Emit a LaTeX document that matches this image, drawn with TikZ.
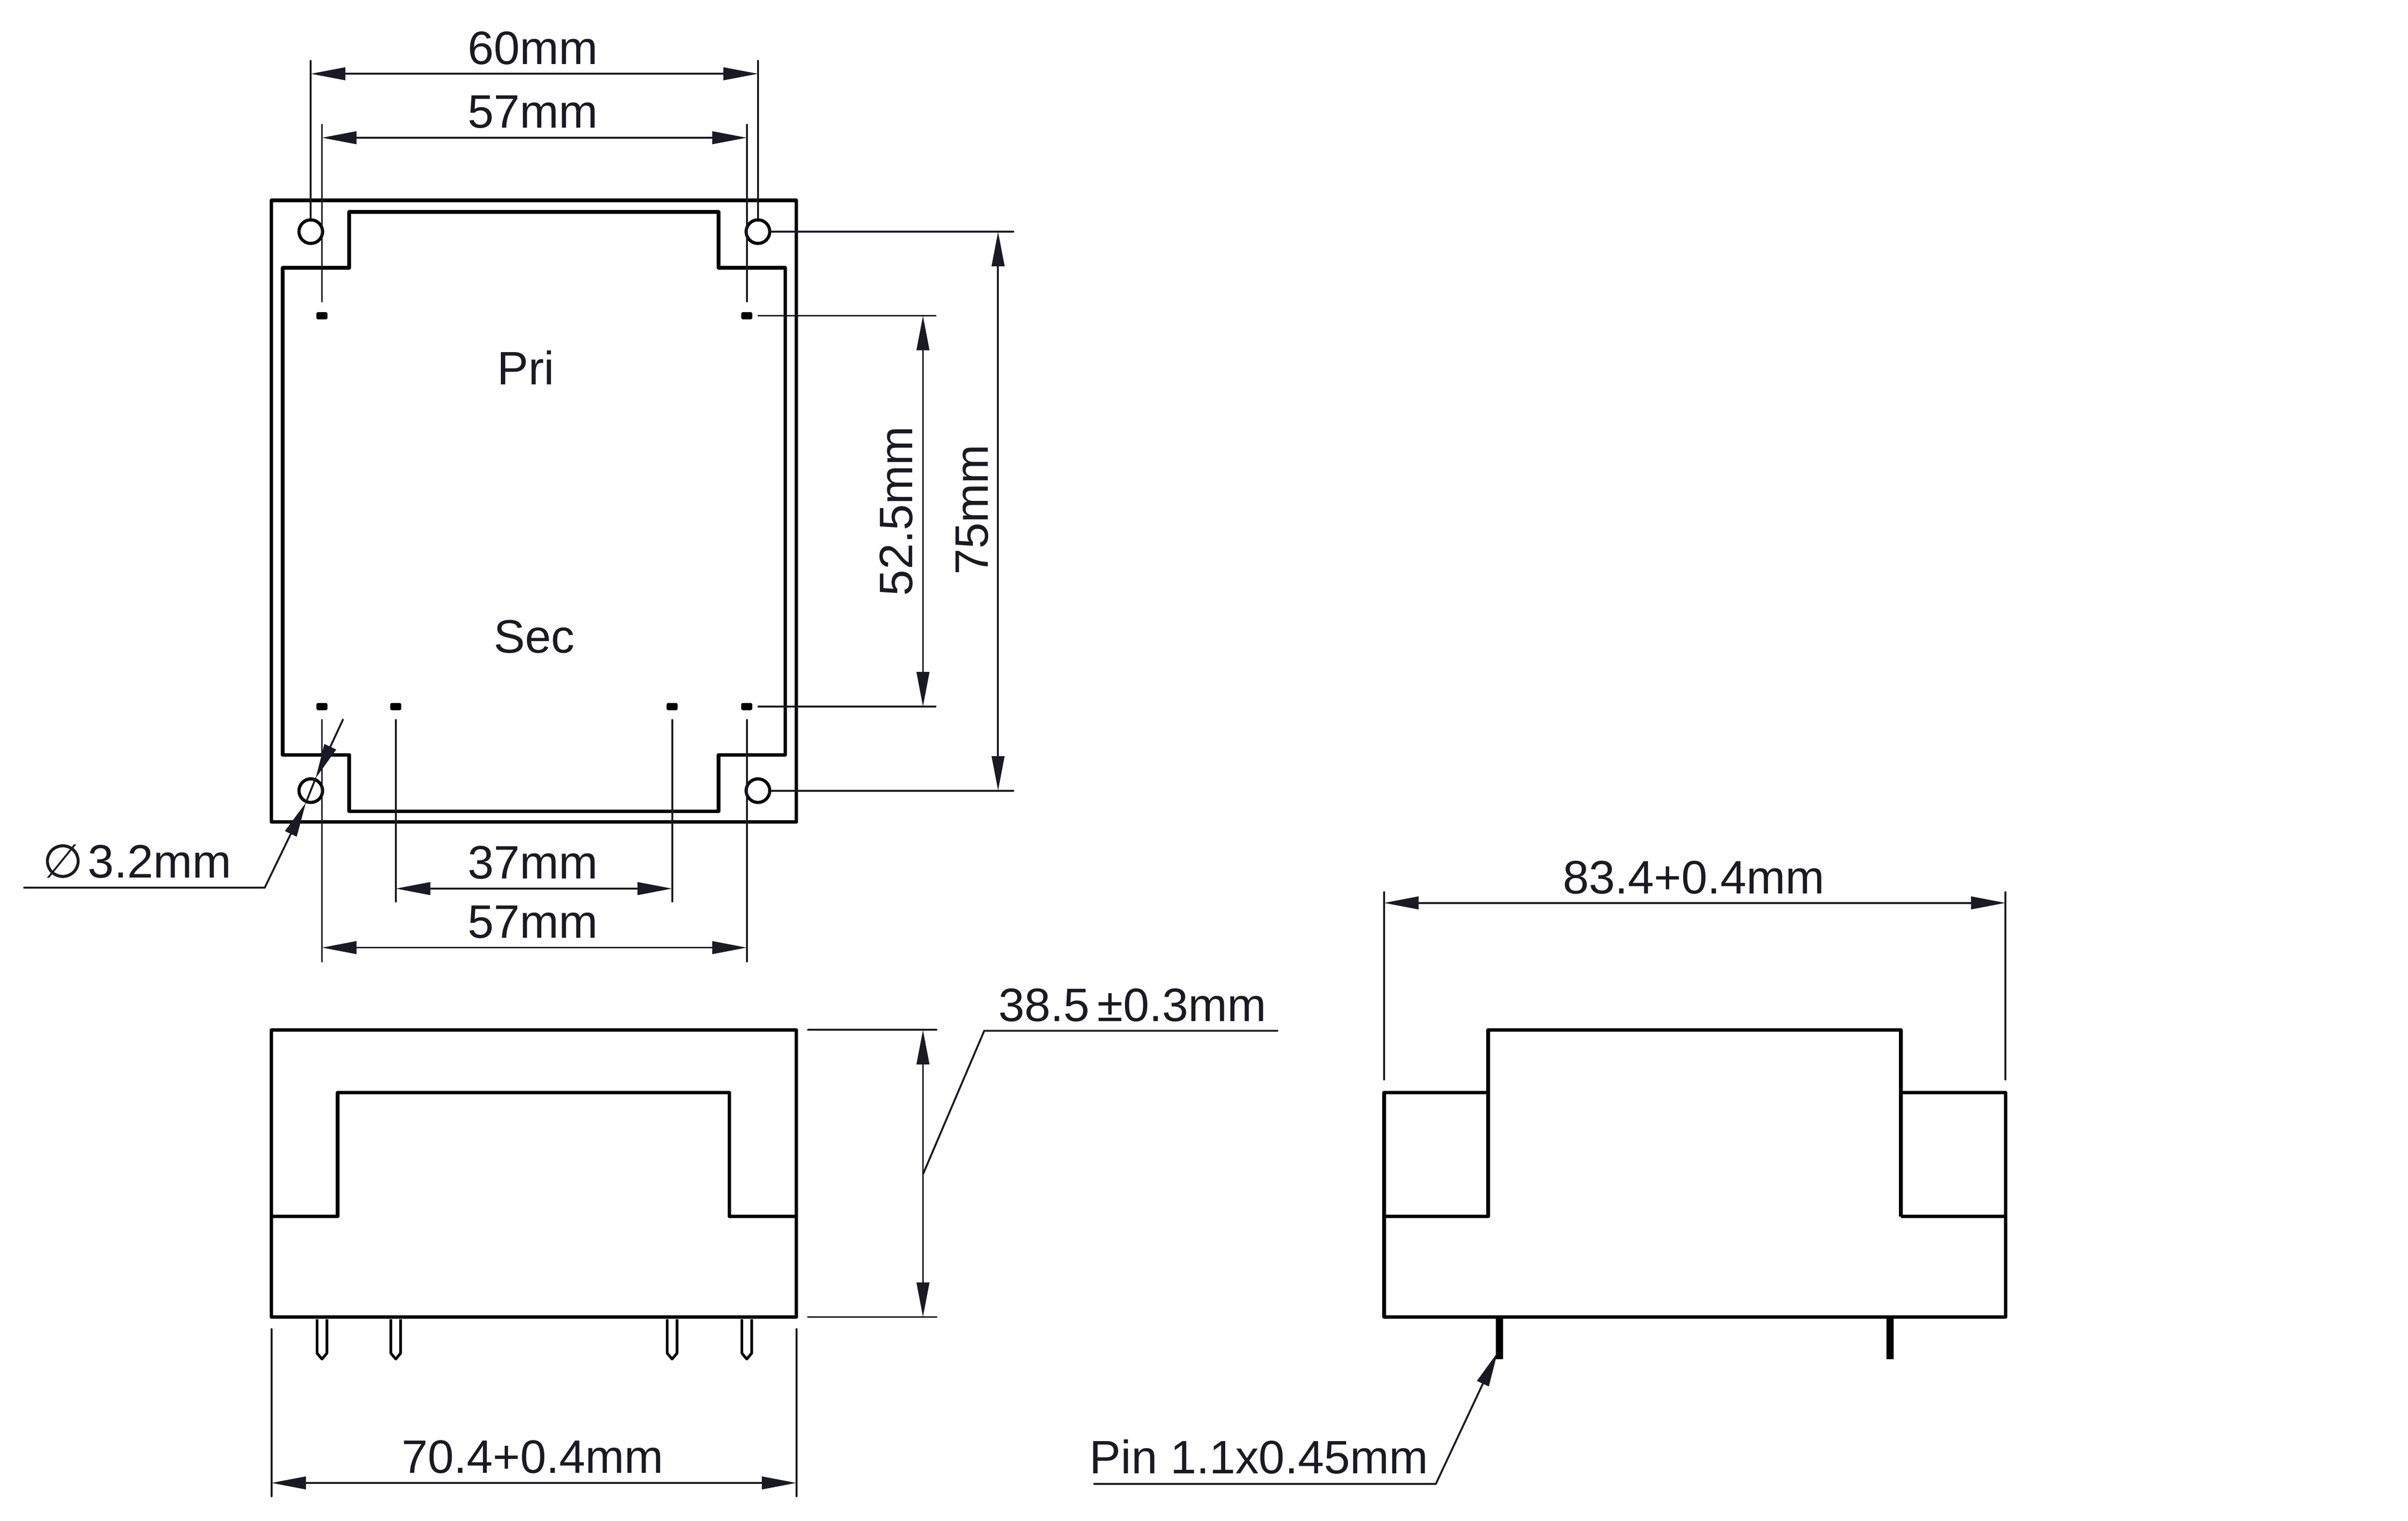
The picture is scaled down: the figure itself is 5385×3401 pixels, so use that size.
\documentclass[tikz,border=0pt]{standalone}
\usepackage{fontspec}
\setmainfont{Liberation Sans}
\newfontfamily\phifont{DejaVu Sans}
\usepackage{tikz}
\usetikzlibrary{arrows.meta}
\definecolor{dimink}{RGB}{26,26,36}
\tikzset{
    outline/.style={line width=2.3pt, line join=round, black},
    pinline/.style={line width=1.7pt, line join=round, black},
    hole/.style={circle, draw=black, line width=2pt, inner sep=0pt, minimum size=15pt},
    pad/.style={rectangle, fill=black, rounded corners=1pt, inner sep=0pt, minimum width=7pt, minimum height=4.6pt},
    dimline/.style={line width=1.2pt, dimink, line cap=round},
    dimtext/.style={text=dimink, inner sep=0pt, anchor=base, font=\fontsize{29.8}{33}\selectfont},
}
\begin{document}
\begin{tikzpicture}[x=0.01cm, y=-0.01cm, >={Triangle[length=22pt, width=8pt]}]
    \useasboundingbox (0,0) rectangle (5385,3401);

    \draw[outline] (607,448) rectangle (1781,1838);
    \draw[outline] (632,599) -- (781,599) -- (781,474) -- (1607,474) -- (1607,599) -- (1756,599) -- (1756,1688) -- (1607,1688) -- (1607,1814) -- (781,1814) -- (781,1688) -- (632,1688) -- cycle;
    \node[hole] (holeTL) at (695,518) {};
    \node[hole] (holeTR) at (1695,518) {};
    \node[hole] (holeBL) at (695,1768) {};
    \node[hole] (holeBR) at (1695,1768) {};
    \node[pad] (padTL) at (720,706) {};
    \node[pad] (padTR) at (1670,706) {};
    \node[pad] (padBA) at (720,1580) {};
    \node[pad] (padBB) at (885,1580) {};
    \node[pad] (padBC) at (1503,1580) {};
    \node[pad] (padBD) at (1670,1580) {};
    \node[dimtext] (pri) at (1176,860) {Pri};
    \node[dimtext] (sec) at (1195,1460) {Sec};

    \draw[outline] (607,2303) rectangle (1781,2945);
    \draw[outline] (607,2720) -- (755,2720) -- (755,2443) -- (1631,2443) -- (1631,2720) -- (1781,2720);
    \foreach \px in {720,885,1503,1670}
        \draw[pinline] (\px-11,2950) -- (\px-11,3026) -- (\px,3039) -- (\px+11,3026) -- (\px+11,2950);

    \draw[outline] (3095,2720) -- (3095,2945) -- (4485,2945) -- (4485,2720);
    \draw[outline] (3328,2720) -- (3095,2720) -- (3095,2443) -- (3328,2443) -- cycle;
    \draw[outline] (3328,2443) -- (3328,2303) -- (4251,2303) -- (4251,2720);
    \draw[outline] (4251,2443) -- (4485,2443) -- (4485,2720) -- (4251,2720);
    \foreach \px in {3353,4227}
        \draw[black, line width=4.6pt] (\px,2948) -- (\px,3039);

    % widths above the top view
    \coordinate (extTopA) at (0,136);
    \coordinate (extTopB) at (0,279);
    \coordinate (rowA) at (0,165);
    \coordinate (rowB) at (0,308);
    \draw[dimline] (holeTL.north) -- (holeTL |- extTopA);
    \draw[dimline] (holeTR.north) -- (holeTR |- extTopA);
    \draw[dimline] (padTL) ++(0,-32) coordinate (padTLup) -- (padTL |- extTopB);
    \draw[dimline] (padTR) ++(0,-32) coordinate (padTRup) -- (padTR |- extTopB);
    \draw[dimline, <->] (holeTL |- rowA) -- (holeTR |- rowA);
    \draw[dimline, <->] (padTL |- rowB) -- (padTR |- rowB);
    \node[dimtext] (widthA) at (1192,144) {60mm};
    \node[dimtext] (widthB) at (1192,286) {57mm};

    % heights beside the top view
    \coordinate (colA) at (2232,0);
    \coordinate (colB) at (2064,0);
    \coordinate (extColA) at (2266,0);
    \coordinate (extColB) at (2092,0);
    \draw[dimline] (holeTR.east) -- (holeTR -| extColA);
    \draw[dimline] (holeBR.east) -- (holeBR -| extColA);
    \draw[dimline] (padTR) ++(26,0) -- (padTR -| extColB);
    \draw[dimline] (padBD) ++(26,0) -- (padBD -| extColB);
    \draw[dimline, <->] (holeTR -| colA) -- (holeBR -| colA);
    \draw[dimline, <->] (padTR -| colB) -- (padBD -| colB);
    \node[dimtext, rotate=90] (heightA) at (2209,1140) {75mm};
    \node[dimtext, rotate=90] (heightB) at (2040,1143) {52.5mm};

    % widths below the top view
    \coordinate (extLowA) at (0,2016);
    \coordinate (extLowB) at (0,2150);
    \coordinate (rowC) at (0,1987);
    \coordinate (rowD) at (0,2119);
    \draw[dimline] (padBA) ++(0,30) -- (padBA |- extLowB);
    \draw[dimline] (padBB) ++(0,30) -- (padBB |- extLowA);
    \draw[dimline] (padBC) ++(0,30) -- (padBC |- extLowA);
    \draw[dimline] (padBD) ++(0,30) -- (padBD |- extLowB);
    \draw[dimline, <->] (padBB |- rowC) -- (padBC |- rowC);
    \draw[dimline, <->] (padBA |- rowD) -- (padBD |- rowD);
    \node[dimtext] (widthC) at (1192,1965) {37mm};
    \node[dimtext] (widthD) at (1192,2097) {57mm};

    % hole diameter
    \coordinate (diaTop) at (767,1609);
    \coordinate (diaA) at (706,1740);
    \coordinate (diaB) at (684,1795);
    \coordinate (diaBend) at (592,1985);
    \coordinate (diaEnd) at (54,1985);
    \draw[dimline, ->] (diaTop) -- (diaA);
    \draw[dimline] (diaA) -- (diaB);
    \draw[dimline, ->] (diaBend) -- (diaB);
    \draw[dimline] (diaBend) -- (diaEnd);
    \node[dimtext, anchor=base east] (diameter) at (518,1963) {{\phifont ∅}\hspace{3pt}3.2mm};

    % front view
    \coordinate (extFrontL) at (1807,0);
    \coordinate (extFrontR) at (2094,0);
    \coordinate (colC) at (2064,2303);
    \coordinate (colD) at (2064,2945);
    \coordinate (tolFoot) at (2064,2626);
    \coordinate (tolBend) at (2201,2305);
    \coordinate (tolEnd) at (2857,2305);
    \draw[dimline] (extFrontL |- colC) -- (extFrontR |- colC);
    \draw[dimline] (extFrontL |- colD) -- (extFrontR |- colD);
    \draw[dimline, <->] (colC) -- (colD);
    \draw[dimline] (tolFoot) -- (tolBend) -- (tolEnd);
    \node[dimtext, anchor=base west] (tolerance) at (2232,2284) {38.5\,±0.3mm};

    \coordinate (extBaseA) at (607,2972);
    \coordinate (extBaseB) at (607,3346);
    \coordinate (extBaseC) at (1781,2972);
    \coordinate (extBaseD) at (1781,3346);
    \coordinate (rowE) at (607,3316);
    \coordinate (rowF) at (1781,3316);
    \draw[dimline] (extBaseA) -- (extBaseB);
    \draw[dimline] (extBaseC) -- (extBaseD);
    \draw[dimline, <->] (rowE) -- (rowF);
    \node[dimtext] (widthE) at (1191,3294) {70.4+0.4mm};

    % side view
    \coordinate (extSideA) at (3095,1995);
    \coordinate (extSideB) at (3095,2414);
    \coordinate (extSideC) at (4485,1995);
    \coordinate (extSideD) at (4485,2414);
    \coordinate (rowG) at (3095,2019);
    \coordinate (rowH) at (4485,2019);
    \draw[dimline] (extSideA) -- (extSideB);
    \draw[dimline] (extSideC) -- (extSideD);
    \draw[dimline, <->] (rowG) -- (rowH);
    \node[dimtext] (widthF) at (3788,1998) {83.4+0.4mm};

    \coordinate (pinTip) at (3349,3024);
    \coordinate (pinBend) at (3211,3318);
    \coordinate (pinEnd) at (2447,3318);
    \draw[dimline, ->] (pinBend) -- (pinTip);
    \draw[dimline] (pinBend) -- (pinEnd);
    \node[dimtext, anchor=base west] (pinsize) at (2436,3295) {Pin 1.1x0.45mm};
\end{tikzpicture}
\end{document}
